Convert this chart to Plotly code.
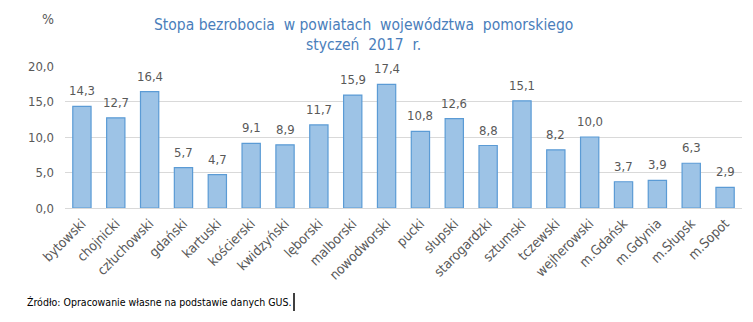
import plotly.graph_objects as go

# Unemployment rate by county, Pomeranian voivodeship, January 2017
powiaty = ["bytowski", "chojnicki", "człuchowski", "gdański", "kartuski",
           "kościerski", "kwidzyński", "lęborski", "malborski", "nowodworski",
           "pucki", "słupski", "starogardzki", "sztumski", "tczewski",
           "wejherowski", "m.Gdańsk", "m.Gdynia", "m.Słupsk", "m.Sopot"]
stopa = [14.3, 12.7, 16.4, 5.7, 4.7, 9.1, 8.9, 11.7, 15.9, 17.4,
         10.8, 12.6, 8.8, 15.1, 8.2, 10.0, 3.7, 3.9, 6.3, 2.9]
y_ticks = [0, 5, 10, 15, 20]

FONT = "Liberation Sans Narrow, DejaVu Sans Condensed, Arial Narrow, sans-serif"
GREY = "#595959"

def pl(v):
    return f"{v:.1f}".replace(".", ",")

fig = go.Figure(go.Bar(
    x=powiaty, y=stopa,
    marker=dict(color="#9DC3E6", line=dict(color="#5B9BD5", width=1.2)),
    cliponaxis=False,
))

W, H = 753, 322
l, r, t, b = 65, 11, 66, 114
pw, ph = W - l - r, H - t - b

def px(x):
    return (x - l) / pw

def py(y):
    return (H - y - b) / ph

# value labels above each bar
value_labels = [
    dict(x=k, y=v, text=pl(v), xref="x", yref="y", showarrow=False,
         yanchor="bottom", yshift=6,
         font=dict(family=FONT, size=13, color=GREY))
    for k, v in zip(powiaty, stopa)
]

fig.update_layout(
    width=W, height=H,
    margin=dict(l=l, r=r, t=t, b=b),
    paper_bgcolor="white", plot_bgcolor="white",
    bargap=0.46,
    showlegend=False,
    font=dict(family=FONT, color=GREY),
    xaxis=dict(
        tickangle=-45, tickfont=dict(family=FONT, size=13.5, color=GREY),
        showgrid=False, showline=False, ticks="", ticklabelstandoff=4,
    ),
    yaxis=dict(
        range=[0, 20], tickvals=y_ticks, ticktext=[pl(v) for v in y_ticks],
        tickfont=dict(family=FONT, size=13, color=GREY),
        showgrid=True, gridcolor="#D9D9D9", gridwidth=1,
        zeroline=True, zerolinecolor="#D9D9D9", zerolinewidth=1,
        showline=False, ticks="", ticklabelstandoff=10,
    ),
    annotations=value_labels + [
        dict(text="Stopa bezrobocia  w powiatach  województwa  pomorskiego<br>styczeń  2017  r.",
             x=px(363), y=py(35), xref="paper", yref="paper", showarrow=False,
             yanchor="middle", font=dict(family=FONT, size=15.5, color="#4A7EBB")),
        dict(text="%", x=px(40), y=py(19), xref="paper", yref="paper",
             showarrow=False, yanchor="middle",
             font=dict(family=FONT, size=14, color=GREY)),
        dict(text="Źródło: Opracowanie własne na podstawie danych GUS.",
             x=px(25), y=py(302), xref="paper", yref="paper", xanchor="left",
             yanchor="middle", showarrow=False,
             font=dict(family=FONT, size=10.5, color="#000000")),
    ],
)

# text cursor after the source note
fig.add_shape(type="line", xref="paper", yref="paper",
              x0=px(294), x1=px(294), y0=py(293), y1=py(311),
              line=dict(color="black", width=1.5))

fig.write_html("out.html")
